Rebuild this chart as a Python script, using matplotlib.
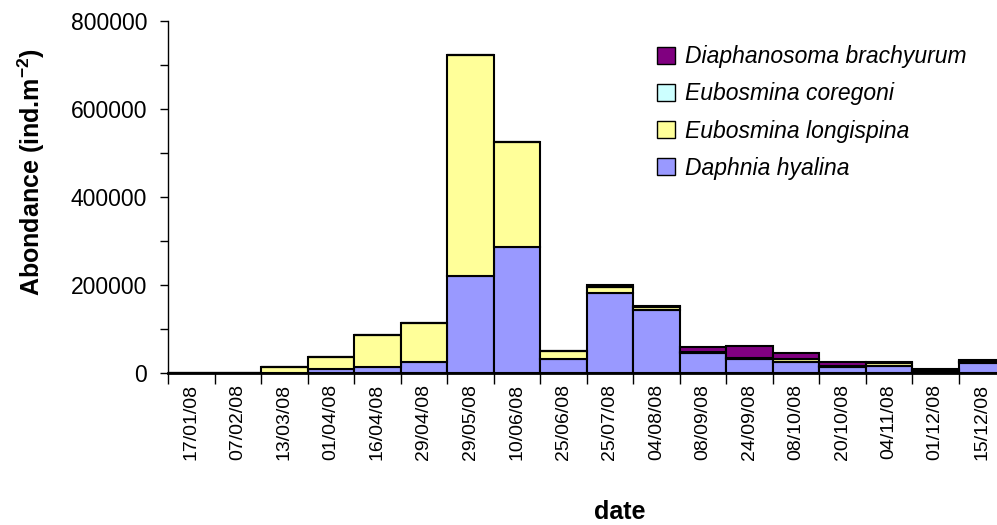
import numpy as np
import matplotlib
matplotlib.use("Agg")
import matplotlib.pyplot as plt
from matplotlib.ticker import MultipleLocator, FixedLocator

plt.rcParams['font.family'] = ['Liberation Sans', 'DejaVu Sans']
plt.rcParams['mathtext.fontset'] = 'custom'
plt.rcParams['mathtext.rm'] = 'Liberation Sans'
plt.rcParams['mathtext.bf'] = 'Liberation Sans:bold'

# sampling dates
dates = ["17/01/08", "07/02/08", "13/03/08", "01/04/08", "16/04/08", "29/04/08",
         "29/05/08", "10/06/08", "25/06/08", "25/07/08", "04/08/08", "08/09/08",
         "24/09/08", "08/10/08", "20/10/08", "04/11/08", "01/12/08", "15/12/08"]

# abundances (ind.m-2)
daphnia = [0, 0, 500, 8000, 13000, 25000, 220000, 286000, 32000, 182000,
           143000, 45000, 32000, 25000, 14000, 16000, 3000, 23000]
longispina = [0, 0, 13000, 28000, 73000, 88000, 502000, 239000, 18000, 13000,
              7000, 3000, 3000, 6000, 3000, 6000, 3000, 3000]
coregoni = [0, 0, 0, 0, 0, 0, 0, 0, 0, 1000,
            1000, 0, 0, 0, 0, 0, 1000, 1000]
diaphanosoma = [0, 0, 0, 0, 0, 0, 0, 0, 0, 3000,
                1000, 11000, 26000, 14000, 7000, 2000, 2000, 3000]

series = [
    ("Daphnia hyalina", daphnia, "#9999FF"),
    ("Eubosmina longispina", longispina, "#FFFF99"),
    ("Eubosmina coregoni", coregoni, "#CCFFFF"),
    ("Diaphanosoma brachyurum", diaphanosoma, "#800080"),
]

fig = plt.figure(figsize=(9.97, 5.25), dpi=100)
ax = fig.add_axes([168 / 997, 152 / 525, 837 / 997, 352 / 525])

x = np.arange(len(dates))
bottom = np.zeros(len(dates))
handles = []
for name, vals, col in series:
    vals = np.array(vals, dtype=float)
    b = ax.bar(x, vals, width=1.0, bottom=bottom, color=col, edgecolor="black",
               linewidth=1.5, label=name, zorder=2)
    handles.append(b)
    bottom += vals

ax.set_xlim(-0.5, len(dates) - 0.5)
ax.set_ylim(0, 800000)

# y axis
ax.yaxis.set_major_locator(MultipleLocator(200000))
ax.yaxis.set_minor_locator(MultipleLocator(100000))
ax.tick_params(axis='y', which='both', direction='out', length=6, width=1,
               labelsize=16.5, pad=9)
ax.set_ylabel(r"Abondance (ind.m$^{\mathbf{-2}}$)", fontsize=18,
              fontweight='bold')
ax.yaxis.set_label_coords(-0.145, 0.57)

# x axis: ticks at bar edges, labels at centres
ax.xaxis.set_major_locator(FixedLocator(np.arange(len(dates) + 1) - 0.5))
ax.set_xticklabels([""] * (len(dates) + 1))
ax.set_xticks(x, minor=True)
ax.set_xticklabels(dates, minor=True, rotation=90, fontsize=14)
ax.tick_params(axis='x', which='major', direction='out', length=8, width=1)
ax.tick_params(axis='x', which='minor', length=0, pad=8)
ax.set_xlabel("date", fontsize=18, fontweight='bold')
ax.xaxis.set_label_coords(0.54, -0.36)

for s in ["top", "right"]:
    ax.spines[s].set_visible(False)
ax.spines["left"].set_linewidth(1)
ax.spines["bottom"].set_linewidth(2)

leg = ax.legend(handles[::-1], [s[0] for s in series][::-1],
                loc="upper left", bbox_to_anchor=(0.56, 0.99), frameon=False,
                prop={'style': 'italic', 'size': 16.5}, handlelength=0.75,
                handleheight=0.75, handletextpad=0.45, labelspacing=0.62)
for h in leg.legend_handles:
    h.set_linewidth(1)

fig.savefig("out.png", dpi=100)
